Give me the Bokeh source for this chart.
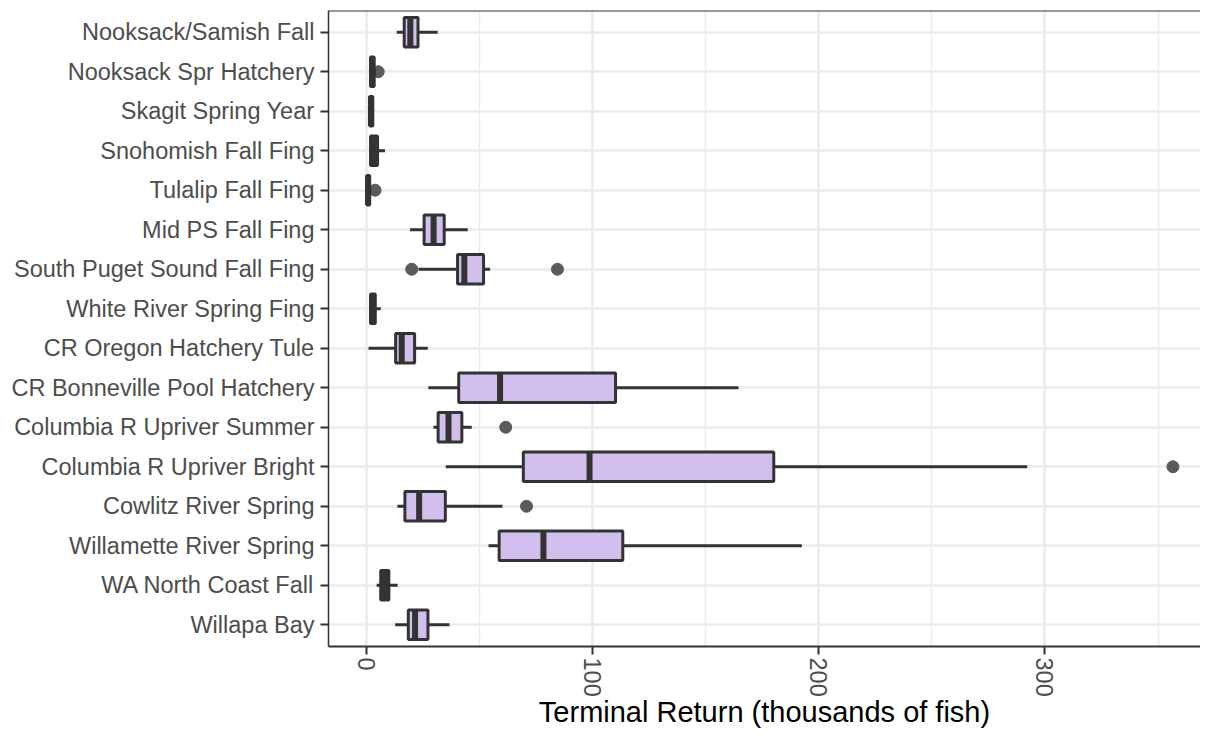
from bokeh.plotting import figure
from bokeh.models import Range1d, FixedTicker, SingleIntervalTicker, Span
from bokeh.embed import file_html
from bokeh.resources import INLINE

categories = [
    "Nooksack/Samish Fall",
    "Nooksack Spr Hatchery",
    "Skagit Spring Year",
    "Snohomish Fall Fing",
    "Tulalip Fall Fing",
    "Mid PS Fall Fing",
    "South Puget Sound Fall Fing",
    "White River Spring Fing",
    "CR Oregon Hatchery Tule",
    "CR Bonneville Pool Hatchery",
    "Columbia R Upriver Summer",
    "Columbia R Upriver Bright",
    "Cowlitz River Spring",
    "Willamette River Spring",
    "WA North Coast Fall",
    "Willapa Bay",
]
whisker_low = [13.2, 1.3, 1.0, 1.2, 0.0, 19.1, 22.8, 1.3, 0.7, 27.2, 29.4, 34.9, 13.5, 53.8, 4.3, 12.5]
q1 = [16.5, 1.6, 1.2, 1.6, 0.0, 25.3, 40.1, 1.6, 12.7, 40.6, 31.5, 69.2, 16.8, 58.5, 6.1, 18.3]
median = [19.2, 2.3, 1.8, 2.8, 0.5, 29.5, 43.1, 2.5, 15.4, 58.9, 36.1, 98.5, 23.1, 78.1, 8.0, 21.3]
q3 = [22.6, 3.2, 2.6, 4.7, 1.2, 34.2, 51.6, 3.7, 21.1, 110.0, 42.0, 180.0, 34.7, 113.2, 9.7, 27.0]
whisker_high = [31.3, 3.4, 2.8, 8.0, 1.5, 44.6, 54.5, 6.1, 26.9, 164.4, 46.4, 292.1, 60.0, 192.4, 13.6, 36.5]

outlier_category = [
    "Nooksack Spr Hatchery",
    "Tulalip Fall Fing",
    "South Puget Sound Fall Fing",
    "South Puget Sound Fall Fing",
    "Columbia R Upriver Summer",
    "Columbia R Upriver Bright",
    "Cowlitz River Spring",
]
outlier_value = [5.0, 3.6, 19.8, 84.3, 61.4, 356.6, 70.6]

x_ticks_interval = 100

n = len(categories)
ypos = [n - 1 - i for i in range(n)]
ymap = dict(zip(categories, ypos))
out_y = [ymap[c] for c in outlier_category]
box_h = 0.75
med_y0 = [y - box_h / 2 for y in ypos]
med_y1 = [y + box_h / 2 for y in ypos]

FONT = "Liberation Sans"
DARK = "#333333"
GRID = "#ebebeb"

p = figure(
    width=1200, height=730,
    x_range=Range1d(-17.0, 368.8),
    y_range=Range1d(-0.55, n - 1 + 0.55),
    output_backend="svg", toolbar_location=None,
    min_border_left=328, min_border_right=0, min_border_top=10, min_border_bottom=84,
)
p.outline_line_color = None
p.background_fill_color = "white"
p.border_fill_color = "white"

xt = SingleIntervalTicker(interval=x_ticks_interval, num_minor_ticks=2)
p.xaxis.ticker = xt
p.xgrid.ticker = xt
yt = FixedTicker(ticks=ypos)
p.yaxis.ticker = yt
p.ygrid.ticker = yt
p.yaxis.major_label_overrides = {y: c for y, c in zip(ypos, categories)}

for g in (p.xgrid, p.ygrid):
    g.grid_line_color = GRID
    g.grid_line_width = 2.5
p.xgrid.minor_grid_line_color = GRID
p.xgrid.minor_grid_line_width = 1.5

for ax in (p.xaxis, p.yaxis):
    ax.major_tick_in = 0
    ax.major_tick_out = 8
    ax.major_tick_line_color = DARK
    ax.major_tick_line_width = 2
    ax.minor_tick_line_color = None
    ax.axis_line_color = DARK
    ax.major_label_text_font = FONT
    ax.major_label_text_font_size = "23.5px"
    ax.major_label_text_color = "#4d4d4d"
    ax.major_label_standoff = 6
p.xaxis.major_label_standoff = 3
p.xaxis.axis_line_width = 2
p.yaxis.axis_line_width = 1.5
p.xaxis.major_label_orientation = "vertical"
p.xaxis.axis_label = "Terminal Return (thousands of fish)"
p.xaxis.axis_label_text_font = FONT
p.xaxis.axis_label_text_font_size = "29px"
p.xaxis.axis_label_text_font_style = "normal"
p.xaxis.axis_label_text_color = "black"
p.xaxis.axis_label_standoff = -4

p.add_layout(Span(location=n - 1 + 0.55, dimension="width", line_color=DARK, line_width=2))

p.scatter(x=outlier_value, y=out_y, size=12, color="#5b5b5b")
p.segment(x0=whisker_low, y0=ypos, x1=q1, y1=ypos, line_color=DARK, line_width=3)
p.segment(x0=q3, y0=ypos, x1=whisker_high, y1=ypos, line_color=DARK, line_width=3)
p.hbar(y=ypos, left=q1, right=q3, height=box_h, fill_color="#d3bfee",
       line_color=DARK, line_width=3)
p.segment(x0=median, y0=med_y0, x1=median, y1=med_y1, line_color=DARK, line_width=6)

open("out.html", "w").write(file_html(p, INLINE))
